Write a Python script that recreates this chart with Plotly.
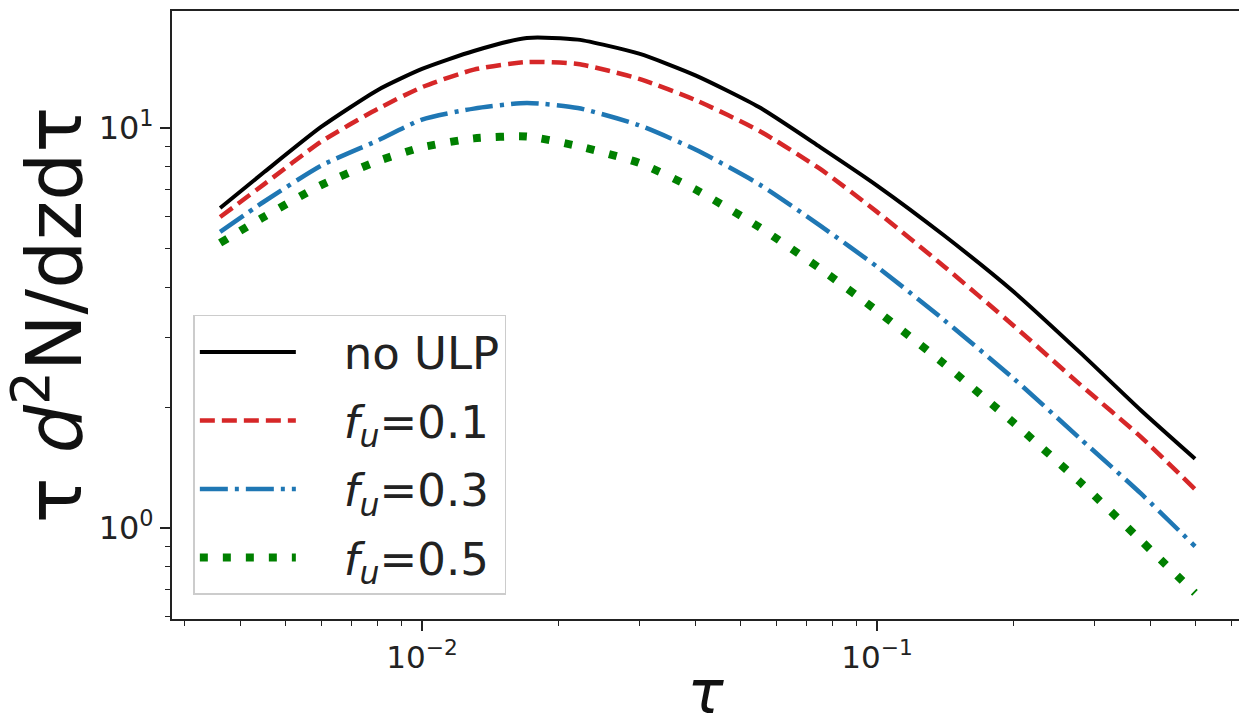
import numpy as np
import plotly.graph_objects as go

# Lifetime grid (tau) shared by all curves
tau = [0.0036, 0.0045, 0.006, 0.008, 0.01, 0.013, 0.017, 0.022, 0.03, 0.04,
       0.055, 0.075, 0.1, 0.14, 0.2, 0.28, 0.38, 0.5]

# tau d^2N/dz dtau for each ULP fraction
no_ulp = [6.31, 7.76, 10.06, 12.45, 14.05, 15.58, 16.79, 16.63, 15.34, 13.52,
          11.28, 8.96, 7.18, 5.40, 3.89, 2.74, 1.97, 1.49]
fu_01 = [5.99, 7.24, 9.24, 11.17, 12.65, 13.99, 14.62, 14.45, 13.27, 11.73,
         9.85, 7.90, 6.17, 4.52, 3.20, 2.28, 1.69, 1.25]
fu_03 = [5.50, 6.55, 8.05, 9.31, 10.50, 11.18, 11.55, 11.22, 10.16, 8.82,
         7.24, 5.70, 4.50, 3.32, 2.36, 1.67, 1.22, 0.90]
fu_05 = [5.16, 6.00, 7.20, 8.27, 8.95, 9.42, 9.52, 9.01, 8.18, 7.01,
         5.66, 4.45, 3.49, 2.58, 1.83, 1.30, 0.931, 0.688]

pad = "\u00a0\u00a0\u00a0"
labels = [pad + "no ULP",
          pad + "<i>f</i><sub><i>u</i></sub>=0.1",
          pad + "<i>f</i><sub><i>u</i></sub>=0.3",
          pad + "<i>f</i><sub><i>u</i></sub>=0.5"]
series = [no_ulp, fu_01, fu_03, fu_05]
colors = ["#000000", "#d62728", "#1f77b4", "#008000"]
widths = [4, 4.5, 4.5, 8]
dashes = ["solid", "15px,7px", "28px,7px,4px,7px", "8px,15px"]

fig = go.Figure()
for i, (lab, ys, c, w, d) in enumerate(zip(labels, series, colors, widths, dashes)):
    fig.add_trace(go.Scatter(x=tau, y=ys, mode="lines", name=lab,
                             legendgroup=f"g{i}",
                             line=dict(color=c, width=w, dash=d,
                                       shape="spline", smoothing=0.6)))

x_major = [1e-2, 1e-1]
x_minor = [3e-3, 4e-3, 5e-3, 6e-3, 7e-3, 8e-3, 9e-3,
           2e-2, 3e-2, 4e-2, 5e-2, 6e-2, 7e-2, 8e-2, 9e-2,
           0.2, 0.3, 0.4, 0.5, 0.6]
y_major = [1, 10]
y_minor = [0.6, 0.7, 0.8, 0.9, 2, 3, 4, 5, 6, 7, 8, 9]

font_family = "DejaVu Sans"

fig.update_layout(
    width=1239, height=727,
    margin=dict(l=172, r=0, t=11, b=108),
    paper_bgcolor="white", plot_bgcolor="white",
    font=dict(family=font_family, color="#222"),
    showlegend=True,
    legend=dict(x=0.02, y=0.04, xanchor="left", yanchor="bottom",
                bgcolor="white", bordercolor="#cccccc", borderwidth=1.5,
                font=dict(size=45, family=font_family, color="#222"),
                itemwidth=96, tracegroupgap=7),
)

fig.update_xaxes(
    type="log", range=[-2.5495, -0.2044], automargin=False,
    showgrid=False, zeroline=False,
    showline=True, linecolor="#222", linewidth=2, mirror=True,
    ticks="outside", ticklen=10, tickwidth=1.5, tickcolor="#222",
    tickvals=x_major, ticktext=["10<sup>\u22122</sup>", "10<sup>\u22121</sup>"],
    tickfont=dict(size=31, family=font_family, color="#222"),
    minor=dict(ticks="outside", ticklen=5, tickwidth=1.2, tickcolor="#222",
               tickvals=x_minor, showgrid=False),
    title=dict(text="<i>\u03c4</i>", font=dict(size=60, family=font_family, color="#111"),
               standoff=30),
)

fig.update_yaxes(
    type="log", range=[-0.2275, 1.2925], automargin=False,
    showgrid=False, zeroline=False,
    showline=True, linecolor="#222", linewidth=2, mirror=False,
    ticks="outside", ticklen=10, tickwidth=1.5, tickcolor="#222",
    tickvals=y_major, ticktext=["10<sup>0</sup>", "10<sup>1</sup>"],
    tickfont=dict(size=32, family=font_family, color="#222"),
    minor=dict(ticks="outside", ticklen=5, tickwidth=1.2, tickcolor="#222",
               tickvals=y_minor, showgrid=False),
    title=dict(text="\u03c4 <i>d</i><sup>2</sup>N/dzd\u03c4",
               font=dict(size=76, family=font_family, color="#111"),
               standoff=8),
)

fig.write_html("out.html")
